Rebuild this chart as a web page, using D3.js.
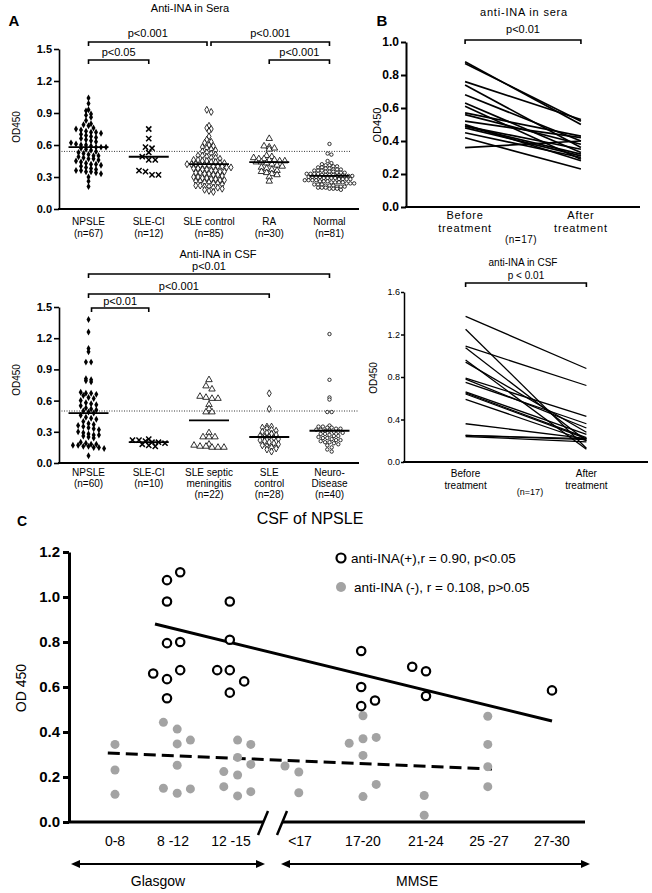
<!DOCTYPE html>
<html><head><meta charset="utf-8">
<script src="https://cdn.jsdelivr.net/npm/d3@7"></script>
<style>
body{margin:0;background:#fff}
svg{display:block}
text{font-family:"Liberation Sans",Arial,Helvetica,sans-serif;fill:#000}
</style></head>
<body><svg id="c" width="652" height="893"></svg>
<script>
// ================= DATA =================
// Panel A (sera)
const seraCats = ["NPSLE","SLE-CI","SLE control","RA","Normal"];
const seraN = ["(n=67)","(n=12)","(n=85)","(n=30)","(n=81)"];
const seraNPSLE = [1.04,0.99,0.93,0.92,0.89,0.88,0.86,0.83,0.80,0.79,0.78,0.76,0.75,0.74,0.73,0.72,0.72,0.71,0.70,0.69,0.68,0.67,0.66,0.65,0.64,0.63,0.62,0.61,0.60,0.60,0.59,0.58,0.58,0.58,0.57,0.56,0.55,0.54,0.53,0.52,0.51,0.50,0.50,0.49,0.48,0.47,0.47,0.46,0.45,0.44,0.43,0.42,0.42,0.41,0.40,0.39,0.38,0.37,0.36,0.36,0.35,0.35,0.34,0.33,0.30,0.26,0.21];
const seraSLECI = [0.75,0.66,0.58,0.57,0.53,0.49,0.46,0.46,0.36,0.35,0.32,0.32];
const seraSLEctrl = [0.93,0.91,0.78,0.76,0.75,0.73,0.68,0.65,0.63,0.62,0.60,0.59,0.58,0.57,0.56,0.55,0.54,0.53,0.52,0.51,0.50,0.50,0.49,0.48,0.48,0.47,0.46,0.46,0.45,0.45,0.44,0.44,0.43,0.43,0.42,0.42,0.42,0.41,0.41,0.41,0.40,0.40,0.40,0.39,0.39,0.38,0.38,0.37,0.37,0.36,0.36,0.35,0.35,0.34,0.34,0.33,0.33,0.32,0.32,0.31,0.30,0.30,0.29,0.29,0.28,0.28,0.27,0.27,0.26,0.26,0.25,0.25,0.24,0.24,0.23,0.22,0.22,0.21,0.21,0.20,0.20,0.19,0.18,0.17,0.16];
const seraRA = [0.66,0.59,0.58,0.57,0.56,0.50,0.49,0.48,0.47,0.47,0.46,0.46,0.45,0.45,0.44,0.44,0.43,0.42,0.41,0.40,0.39,0.38,0.37,0.36,0.35,0.34,0.33,0.32,0.30,0.26];
const seraNormal = [0.61,0.52,0.51,0.45,0.43,0.42,0.41,0.41,0.40,0.40,0.39,0.39,0.38,0.38,0.37,0.37,0.37,0.36,0.36,0.36,0.35,0.35,0.35,0.34,0.34,0.34,0.33,0.33,0.33,0.33,0.32,0.32,0.32,0.32,0.31,0.31,0.31,0.31,0.31,0.30,0.30,0.30,0.30,0.29,0.29,0.29,0.29,0.28,0.28,0.28,0.28,0.27,0.27,0.27,0.27,0.26,0.26,0.26,0.25,0.25,0.25,0.25,0.24,0.24,0.24,0.23,0.23,0.23,0.22,0.22,0.22,0.21,0.21,0.21,0.20,0.20,0.20,0.19,0.19,0.19,0.18];
const seraMedians = [0.58,0.49,0.42,0.44,0.31];
const seraCutoff = 0.54;
const seraTicks = [0,0.3,0.6,0.9,1.2,1.5];

// Panel A (CSF)
const csfCats = ["NPSLE","SLE-CI","SLE septic meningitis","SLE control","Neuro-Disease"];
const csfLabels = [["NPSLE","(n=60)"],["SLE-CI","(n=10)"],["SLE septic","meningitis","(n=22)"],["SLE","control","(n=28)"],["Neuro-","Disease","(n=40)"]];
const csfNPSLE = [1.38,1.26,1.10,1.07,0.97,0.97,0.81,0.80,0.79,0.78,0.68,0.67,0.67,0.66,0.65,0.63,0.62,0.60,0.58,0.57,0.56,0.55,0.53,0.52,0.51,0.50,0.49,0.48,0.46,0.44,0.43,0.42,0.40,0.38,0.37,0.36,0.35,0.34,0.33,0.32,0.30,0.29,0.28,0.27,0.27,0.26,0.25,0.24,0.20,0.19,0.18,0.18,0.17,0.17,0.16,0.16,0.15,0.15,0.14,0.07];
const csfSLECI = [0.23,0.22,0.22,0.21,0.20,0.20,0.19,0.18,0.17,0.16];
const csfSeptic = [0.80,0.74,0.71,0.64,0.63,0.62,0.62,0.56,0.52,0.49,0.49,0.29,0.25,0.25,0.25,0.18,0.17,0.16,0.16,0.15,0.15,0.15];
const csfSLEctrl = [0.67,0.52,0.35,0.35,0.34,0.33,0.32,0.31,0.30,0.29,0.28,0.27,0.26,0.25,0.25,0.24,0.23,0.22,0.21,0.20,0.19,0.18,0.17,0.16,0.15,0.14,0.13,0.11];
const csfNeuro = [1.24,0.80,0.63,0.61,0.49,0.49,0.36,0.35,0.35,0.34,0.34,0.33,0.33,0.32,0.32,0.31,0.31,0.30,0.30,0.29,0.28,0.28,0.27,0.26,0.26,0.25,0.24,0.24,0.23,0.22,0.22,0.21,0.20,0.20,0.19,0.18,0.17,0.15,0.13,0.11];
const csfMedians = [0.48,0.20,0.41,0.25,0.31];
const csfCutoff = 0.50;
const csfTicks = [0,0.3,0.6,0.9,1.2,1.5];

// Panel B
const bCats = ["Before","After"];
const bSeraBefore = [0.88,0.87,0.76,0.74,0.68,0.63,0.61,0.57,0.56,0.52,0.49,0.48,0.49,0.45,0.42,0.36,0.50];
const bSeraAfter  = [0.50,0.52,0.53,0.36,0.40,0.33,0.29,0.43,0.38,0.42,0.32,0.31,0.35,0.30,0.23,0.40,0.28];
const bSeraTicks = [0,0.2,0.4,0.6,0.8,1.0];
const bCsfBefore = [1.37,1.25,1.09,1.075,0.96,0.94,0.79,0.78,0.75,0.66,0.65,0.64,0.59,0.36,0.25,0.25,0.24];
const bCsfAfter  = [0.88,0.13,0.72,0.20,0.12,0.28,0.43,0.32,0.36,0.26,0.23,0.22,0.20,0.22,0.22,0.21,0.19];
const bCsfTicks = [0,0.4,0.8,1.2,1.6];

// Panel C
const glasgowCats = ["0-8","8 -12","12 -15"];
const mmseCats = ["<17","17-20","21-24","25 -27","27-30"];
// anti-INA(+) : category, jitter (category units), OD450
const posCat = ["8 -12","8 -12","8 -12","8 -12","8 -12","8 -12","8 -12","8 -12","8 -12","12 -15","12 -15","12 -15","12 -15","12 -15","12 -15","17-20","17-20","17-20","17-20","21-24","21-24","21-24","27-30"];
const posJit = [-0.10,0.12,-0.10,-0.10,0.12,-0.33,-0.10,0.12,-0.10,-0.02,-0.02,-0.23,-0.02,0.22,-0.02,-0.03,-0.03,-0.03,0.20,-0.23,0,0,0];
const posVal = [1.075,1.11,0.98,0.795,0.80,0.66,0.635,0.675,0.55,0.98,0.81,0.675,0.675,0.625,0.575,0.76,0.60,0.515,0.54,0.69,0.67,0.56,0.585];
// anti-INA(-)
const negCat = ["0-8","0-8","0-8","8 -12","8 -12","8 -12","8 -12","8 -12","8 -12","8 -12","8 -12","12 -15","12 -15","12 -15","12 -15","12 -15","12 -15","12 -15","12 -15","12 -15","<17","<17","<17","17-20","17-20","17-20","17-20","17-20","17-20","17-20","21-24","21-24","25 -27","25 -27","25 -27","25 -27"];
const negJit = [0,0,0,-0.16,0.07,0.07,0.29,0.07,-0.16,0.07,0.29,0.11,0.33,0.11,-0.12,0.33,0.11,-0.12,0.11,0.33,-0.25,-0.02,-0.02,-0.23,0,0,0.22,0,0.22,0,-0.03,-0.03,-0.02,-0.02,-0.02,-0.02];
const negVal = [0.345,0.231,0.123,0.443,0.413,0.347,0.364,0.252,0.150,0.128,0.147,0.364,0.345,0.287,0.224,0.256,0.209,0.157,0.116,0.135,0.249,0.222,0.130,0.350,0.472,0.370,0.376,0.296,0.167,0.113,0.118,0.030,0.470,0.345,0.246,0.157];
const posFit = {from:["8 -12",-0.30,0.88], to:["27-30",0,0.449]};
const negFit = {from:["0-8",-0.12,0.307], to:["25 -27",0.05,0.236]};
const cTicks = [0,0.2,0.4,0.6,0.8,1.0,1.2];

// ================= DRAW =================
const svg = d3.select("#c");

function txt(x,y,s,opt={}){
  const t = svg.append("text").attr("x",x).attr("y",y).text(s)
    .attr("text-anchor",opt.anchor||"middle")
    .style("font-size",(opt.size||11)+"px")
    .style("font-weight",opt.weight||"normal");
  if(opt.ls) t.style("letter-spacing",opt.ls+"px");
  if(opt.rot) t.attr("transform",`rotate(-90,${x},${y})`);
  return t;
}
function bracket(x1,x2,y,tick,label,ly,size){
  svg.append("path").attr("d",`M${x1},${y+tick}V${y}H${x2}V${y+tick}`)
    .attr("fill","none").attr("stroke","#000").attr("stroke-width",1.6);
  txt((x1+x2)/2,ly,label,{size:size||11});
}
function yAxis(scale,x,ticks,fmt,opt){
  const g = svg.append("g").attr("transform",`translate(${x},0)`)
    .call(d3.axisLeft(scale).tickValues(ticks).tickFormat(d3.format(fmt)).tickSize(opt.tick).tickSizeOuter(0).tickPadding(opt.pad||2));
  g.select(".domain").attr("stroke-width",opt.sw);
  g.selectAll(".tick line").attr("stroke-width",opt.sw);
  g.selectAll(".tick text").style("font-size",opt.size+"px").style("font-weight",opt.weight||"bold")
    .style("font-family",'"Liberation Sans",Arial,sans-serif');
  return g;
}
// column-scatter layout: values binned into rows, each row centred
function rows(vals, ys, hs, vs){
  const pts = vals.map(v=>({v,y:ys(v)}));
  const groups = d3.group(pts, p=>Math.floor(p.y/vs));
  groups.forEach(arr=>{
    arr.sort((a,b)=>a.y-b.y);
    const n=arr.length;
    // alternate order so that neighbours spread evenly
    arr.forEach((p,k)=>{ p.dx = (k-(n-1)/2)*hs; });
  });
  return pts;
}
function marker(type,x,y){
  const t=`translate(${x},${y})`;
  if(type==="fd") svg.append("path").attr("d",d3.symbol(d3.symbolDiamond,14)()).attr("transform",t).attr("fill","#000");
  else if(type==="x") svg.append("path").attr("d","M-2.6,-2.6L2.6,2.6M-2.6,2.6L2.6,-2.6").attr("transform",t).attr("stroke","#000").attr("stroke-width",1.5).attr("fill","none");
  else if(type==="od") svg.append("path").attr("d",d3.symbol(d3.symbolDiamond,14)()).attr("transform",t).attr("fill","#fff").attr("stroke","#000").attr("stroke-width",0.8);
  else if(type==="ot") svg.append("path").attr("d",d3.symbol(d3.symbolTriangle,18)()).attr("transform",t).attr("fill","#fff").attr("stroke","#000").attr("stroke-width",0.8);
  else if(type==="oc") svg.append("circle").attr("cx",x).attr("cy",y).attr("r",1.7).attr("fill","#fff").attr("stroke","#000").attr("stroke-width",0.8);
}

// ---------- Panel A ----------
txt(14,26,"A",{size:15,weight:"bold"});
const xA = d3.scalePoint().domain(seraCats).range([59,359]).padding(0.49);
const xA2 = d3.scalePoint().domain(csfCats).range([59,359]).padding(0.49);
const yA1 = d3.scaleLinear().domain([0,1.5]).range([209,49]);
const yA2 = d3.scaleLinear().domain([0,1.5]).range([463,307]);

// top: sera
txt(190,12,"Anti-INA in  Sera",{size:11});
bracket(xA("NPSLE"),xA("SLE control")-2,42,4,"p<0.001",37);
bracket(xA("SLE control")+2,xA("Normal"),42,4,"p<0.001",37);
bracket(xA("NPSLE"),xA("SLE-CI"),60,4,"p<0.05",56);
bracket(xA("RA"),xA("Normal"),60,4,"p<0.001",56);
svg.append("line").attr("x1",59).attr("x2",350).attr("y1",yA1(seraCutoff)).attr("y2",yA1(seraCutoff))
  .attr("stroke","#000").attr("stroke-width",0.8).attr("stroke-dasharray","1,1.5");
const seraSets=[seraNPSLE,seraSLECI,seraSLEctrl,seraRA,seraNormal];
const seraMk=["fd","x","od","ot","oc"];
const seraHS=[5,6.5,4.4,5.2,3.8], seraVS=[4.6,5,4.2,4.5,3.4];
seraSets.forEach((vals,i)=>{
  rows(vals,yA1,seraHS[i],seraVS[i]).forEach(p=>marker(seraMk[i],xA(seraCats[i])+p.dx,p.y));
  svg.append("line").attr("x1",xA(seraCats[i])-20).attr("x2",xA(seraCats[i])+20)
    .attr("y1",yA1(seraMedians[i])).attr("y2",yA1(seraMedians[i])).attr("stroke","#000").attr("stroke-width",1.8);
});
yAxis(yA1,59,seraTicks,".1f",{tick:5,sw:1.6,size:11});
svg.append("line").attr("x1",58).attr("x2",359).attr("y1",209).attr("y2",209).attr("stroke","#000").attr("stroke-width",2);
seraCats.forEach((c,i)=>{txt(xA(c),225,c,{size:10}); txt(xA(c),237,seraN[i],{size:10});});
txt(20,127,"OD450",{size:10,rot:true});

// bottom: CSF
txt(218,258,"Anti-INA in CSF",{size:11});
bracket(xA2("NPSLE"),xA2("Neuro-Disease"),274,4,"p<0.01",270);
bracket(xA2("NPSLE"),xA2("SLE control"),294,4,"p<0.001",290);
bracket(xA2("NPSLE")+3,xA2("SLE-CI"),308,4,"p<0.01",305);
svg.append("line").attr("x1",59).attr("x2",359).attr("y1",yA2(csfCutoff)).attr("y2",yA2(csfCutoff))
  .attr("stroke","#000").attr("stroke-width",0.8).attr("stroke-dasharray","1,1.5");
const csfSets=[csfNPSLE,csfSLECI,csfSeptic,csfSLEctrl,csfNeuro];
const csfMk=["fd","x","ot","od","oc"];
const csfHS=[5.2,6.5,6,4.6,4.4], csfVS=[5,4,5,4.4,3.8];
csfSets.forEach((vals,i)=>{
  rows(vals,yA2,csfHS[i],csfVS[i]).forEach(p=>marker(csfMk[i],xA2(csfCats[i])+p.dx,p.y));
  svg.append("line").attr("x1",xA2(csfCats[i])-20).attr("x2",xA2(csfCats[i])+20)
    .attr("y1",yA2(csfMedians[i])).attr("y2",yA2(csfMedians[i])).attr("stroke","#000").attr("stroke-width",1.8);
});
yAxis(yA2,59,csfTicks,".1f",{tick:5,sw:1.6,size:11});
svg.append("line").attr("x1",58).attr("x2",359).attr("y1",463).attr("y2",463).attr("stroke","#000").attr("stroke-width",2);
csfCats.forEach((c,i)=>{csfLabels[i].forEach((l,j)=>txt(xA2(c),476+j*11,l,{size:10}));});
txt(20,380,"OD450",{size:10,rot:true});

// ---------- Panel B ----------
txt(382,26,"B",{size:15,weight:"bold"});
const xB1 = d3.scalePoint().domain(bCats).range([406,640]).padding(0.51);
const yB1 = d3.scaleLinear().domain([0,1]).range([207,42]);
txt(524,16,"anti-INA in sera",{size:11,ls:0.8});
bracket(xB1("Before"),xB1("After"),40,4,"p<0.01",33,11);
bSeraBefore.forEach((b,i)=>svg.append("line").attr("x1",xB1("Before")).attr("x2",xB1("After"))
  .attr("y1",yB1(b)).attr("y2",yB1(bSeraAfter[i])).attr("stroke","#000").attr("stroke-width",1.7));
yAxis(yB1,406,bSeraTicks,".1f",{tick:5,sw:2,size:12});
svg.append("line").attr("x1",405).attr("x2",640).attr("y1",207).attr("y2",207).attr("stroke","#000").attr("stroke-width",2.2);
txt(xB1("Before"),219,"Before",{size:11,ls:0.8}); txt(xB1("Before"),232,"treatment",{size:11,ls:0.8});
txt(xB1("After"),219,"After",{size:11,ls:0.8}); txt(xB1("After"),232,"treatment",{size:11,ls:0.8});
txt(521,243,"(n=17)",{size:10,ls:0.5});
txt(381,125,"OD450",{size:11,rot:true});

const xB2 = d3.scalePoint().domain(bCats).range([404,648]).padding(0.51);
const yB2 = d3.scaleLinear().domain([0,1.6]).range([462,292]);
txt(523,266,"anti-INA  in CSF",{size:10});
bracket(xB2("Before"),xB2("After"),283,4,"p < 0.01",279,10);
bCsfBefore.forEach((b,i)=>svg.append("line").attr("x1",xB2("Before")).attr("x2",xB2("After"))
  .attr("y1",yB2(b)).attr("y2",yB2(bCsfAfter[i])).attr("stroke","#000").attr("stroke-width",1.3));
yAxis(yB2,404,bCsfTicks,".1f",{tick:3,sw:1.5,size:9,weight:"normal",pad:1});
svg.append("line").attr("x1",403).attr("x2",648).attr("y1",462).attr("y2",462).attr("stroke","#000").attr("stroke-width",1.8);
txt(xB2("Before"),477,"Before",{size:10}); txt(xB2("Before"),489,"treatment",{size:10});
txt(xB2("After"),477,"After",{size:10}); txt(xB2("After"),489,"treatment",{size:10});
txt(530,495,"(n=17)",{size:9});
txt(377,378,"OD450",{size:10,rot:true});

// ---------- Panel C ----------
txt(22,526,"C",{size:14,weight:"bold"});
txt(310,524,"CSF of NPSLE",{size:16});
const xG = d3.scalePoint().domain(glasgowCats).range([115,231]);
const xM = d3.scalePoint().domain(mmseCats).range([300,552]);
const UNIT = 60;
const xC = (c,j)=> (glasgowCats.includes(c)?xG(c):xM(c)) + j*UNIT;
const yC = d3.scaleLinear().domain([0,1.2]).range([822,552]);

svg.append("line").attr("x1",xC(posFit.from[0],posFit.from[1])).attr("y1",yC(posFit.from[2]))
  .attr("x2",xC(posFit.to[0],posFit.to[1])).attr("y2",yC(posFit.to[2])).attr("stroke","#000").attr("stroke-width",3);
svg.append("line").attr("x1",xC(negFit.from[0],negFit.from[1])).attr("y1",yC(negFit.from[2]))
  .attr("x2",xC(negFit.to[0],negFit.to[1])).attr("y2",yC(negFit.to[2])).attr("stroke","#000").attr("stroke-width",3)
  .attr("stroke-dasharray","12,6");
negVal.forEach((v,i)=>svg.append("circle").attr("cx",xC(negCat[i],negJit[i])).attr("cy",yC(v)).attr("r",4.5).attr("fill","#a3a3a3"));
posVal.forEach((v,i)=>svg.append("circle").attr("cx",xC(posCat[i],posJit[i])).attr("cy",yC(v)).attr("r",4.2)
  .attr("fill","#fff").attr("stroke","#000").attr("stroke-width",2.2));

yAxis(yC,69,cTicks,".1f",{tick:6,sw:3,size:15,pad:3});
svg.append("line").attr("x1",68).attr("x2",264).attr("y1",822).attr("y2",822).attr("stroke","#000").attr("stroke-width",3);
svg.append("line").attr("x1",282).attr("x2",585).attr("y1",822).attr("y2",822).attr("stroke","#000").attr("stroke-width",3);
[263,282].forEach(x=>svg.append("line").attr("x1",x-5).attr("y1",835).attr("x2",x+5).attr("y2",811).attr("stroke","#000").attr("stroke-width",2.5));
glasgowCats.forEach(c=>txt(xG(c),846,c,{size:14}));
mmseCats.forEach(c=>txt(xM(c),846,c,{size:14}));
txt(26,688,"OD 450",{size:14,rot:true});

function dblArrow(x1,x2,y){
  svg.append("line").attr("x1",x1+6).attr("x2",x2-6).attr("y1",y).attr("y2",y).attr("stroke","#000").attr("stroke-width",2);
  svg.append("path").attr("d",`M${x1},${y}L${x1+9},${y-4}L${x1+9},${y+4}Z`).attr("fill","#000");
  svg.append("path").attr("d",`M${x2},${y}L${x2-9},${y-4}L${x2-9},${y+4}Z`).attr("fill","#000");
}
dblArrow(71,265,864);
dblArrow(281,590,864);
txt(158,886,"Glasgow",{size:14});
txt(417,886,"MMSE",{size:14});

svg.append("circle").attr("cx",341).attr("cy",558).attr("r",4.5).attr("fill","#fff").attr("stroke","#000").attr("stroke-width",2.2);
txt(351,563,"anti-INA(+),r = 0.90, p<0.05",{size:13.5,anchor:"start"});
svg.append("circle").attr("cx",341).attr("cy",587).attr("r",5).attr("fill","#a3a3a3");
txt(354,592,"anti-INA (-), r = 0.108, p>0.05",{size:13.5,anchor:"start"});
</script></body></html>
